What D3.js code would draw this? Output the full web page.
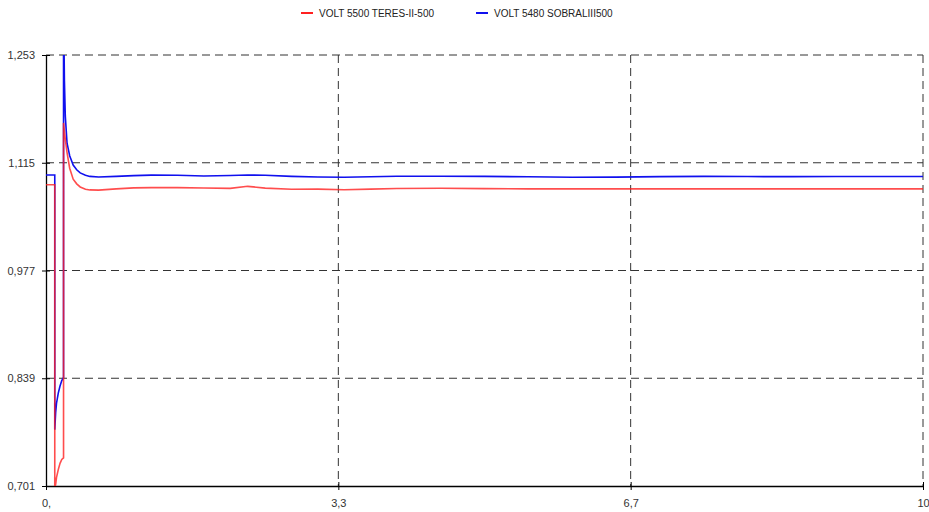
<!DOCTYPE html>
<html><head><meta charset="utf-8">
<script src="https://cdn.jsdelivr.net/npm/d3@7"></script>
<style>
body{margin:0;background:#fff;}
svg{display:block;font-family:"Liberation Sans",Arial,sans-serif;}
</style></head>
<body><svg id="c" width="929" height="512"></svg>
<script>
const seriesNames = ["VOLT 5500 TERES-II-500", "VOLT 5480 SOBRALIII500"];
const seriesColors = ["#ff2020", "#1010ee"];
const times = [0, 0.1, 0.1, 0.11, 0.12, 0.14, 0.16, 0.18, 0.2, 0.2, 0.21, 0.22, 0.24, 0.27, 0.31, 0.35, 0.39, 0.45, 0.5, 0.6, 0.8, 1.0, 1.2, 1.5, 1.8, 2.1, 2.3, 2.5, 2.8, 3.1, 3.4, 3.7, 4.0, 4.5, 5.0, 5.5, 6.0, 6.5, 7.0, 7.5, 8.0, 8.5, 9.0, 9.5, 10];
const redValues = [1.0869, 1.0869, 0.699, 0.703, 0.712, 0.722, 0.730, 0.735, 0.737, 1.166, 1.155, 1.145, 1.128, 1.108, 1.094, 1.088, 1.084, 1.081, 1.0802, 1.0800, 1.0815, 1.0828, 1.0831, 1.0831, 1.0826, 1.0822, 1.0848, 1.0825, 1.0810, 1.0812, 1.0805, 1.0812, 1.0820, 1.0823, 1.0818, 1.0815, 1.0815, 1.0815, 1.0815, 1.0815, 1.0815, 1.0815, 1.0815, 1.0815, 1.0815];
const blueValues = [1.0993, 1.0993, 0.773, 0.795, 0.807, 0.820, 0.829, 0.836, 0.840, 1.32, 1.22, 1.175, 1.14, 1.124, 1.112, 1.106, 1.102, 1.099, 1.0975, 1.0968, 1.0975, 1.0985, 1.0992, 1.0990, 1.0980, 1.0987, 1.0993, 1.0990, 1.0975, 1.0967, 1.0965, 1.0970, 1.0978, 1.0978, 1.0976, 1.0970, 1.0965, 1.0966, 1.0972, 1.0976, 1.0973, 1.0972, 1.0973, 1.0974, 1.0974];
const xTicks = [0, 10/3, 20/3, 10];
const xTickLabels = ["0,", "3,3", "6,7", "10"];
const yTicks = [0.701, 0.839, 0.977, 1.115, 1.253];
const yTickLabels = ["0,701", "0,839", "0,977", "1,115", "1,253"];

const svg = d3.select("#c");
const L = 46, R = 923, T = 55, B = 486;
const x = d3.scaleLinear().domain([0, 10]).range([L, R]);
const y = d3.scaleLinear().domain([0.701, 1.253]).range([B, T]);

svg.append("defs").append("clipPath").attr("id", "clip")
  .append("rect").attr("x", L).attr("y", T).attr("width", R - L).attr("height", B - T);

// grid
const grid = svg.append("g");
yTicks.slice(1).forEach(v => {
  grid.append("line").attr("x1", L).attr("x2", R).attr("y1", y(v)).attr("y2", y(v))
    .attr("stroke", "#333").attr("stroke-width", 1).attr("stroke-dasharray", "8,5");
});
xTicks.slice(1).forEach(v => {
  grid.append("line").attr("x1", x(v)).attr("x2", x(v)).attr("y1", T).attr("y2", B)
    .attr("stroke", "#333").attr("stroke-width", 1).attr("stroke-dasharray", "8,5");
});

// axes
const yAxis = d3.axisLeft(y).tickValues(yTicks).tickFormat((d, i) => yTickLabels[i]).tickSizeInner(4).tickSizeOuter(0).tickPadding(7);
const gy = svg.append("g").attr("transform", `translate(${L},0)`).call(yAxis);
gy.selectAll(".tick line").attr("x1", 4).attr("x2", -4).attr("stroke", "#000");
gy.select(".domain").attr("stroke", "#000").attr("stroke-width", 1.3);
gy.selectAll("text").attr("font-size", 11).attr("fill", "#333").attr("font-family", "Liberation Sans, Arial, sans-serif");

const xAxis = d3.axisBottom(x).tickValues(xTicks).tickFormat((d, i) => xTickLabels[i]).tickSizeInner(4).tickSizeOuter(0).tickPadding(9);
const gx = svg.append("g").attr("transform", `translate(0,${B})`).call(xAxis);
gx.selectAll(".tick line").attr("y1", -4).attr("y2", 4).attr("stroke", "#000");
gx.select(".domain").attr("stroke", "#000").attr("stroke-width", 1.3);
gx.selectAll("text").attr("font-size", 11).attr("fill", "#333").attr("font-family", "Liberation Sans, Arial, sans-serif");

// lines
const line = d3.line().x(d => x(d[0])).y(d => y(d[1]));
const plot = svg.append("g").attr("clip-path", "url(#clip)");
plot.append("path").datum(times.map((t, i) => [t, blueValues[i]]))
  .attr("d", line).attr("fill", "none").attr("stroke", seriesColors[1]).attr("stroke-width", 1.6);
plot.append("path").datum(times.map((t, i) => [t, redValues[i]]))
  .attr("d", line).attr("fill", "none").attr("stroke", seriesColors[0]).attr("stroke-opacity", 0.8).attr("stroke-width", 1.6);

// legend
const legendX = [301, 476];
seriesNames.forEach((n, i) => {
  const g = svg.append("g").attr("transform", `translate(${legendX[i]},13)`);
  g.append("line").attr("x1", 0).attr("x2", 12).attr("y1", 0).attr("y2", 0)
    .attr("stroke", seriesColors[i]).attr("stroke-width", 2);
  g.append("text").attr("x", 18).attr("y", 0).attr("dy", "0.35em")
    .attr("font-size", 10).attr("fill", "#222").text(n);
});
</script></body></html>
